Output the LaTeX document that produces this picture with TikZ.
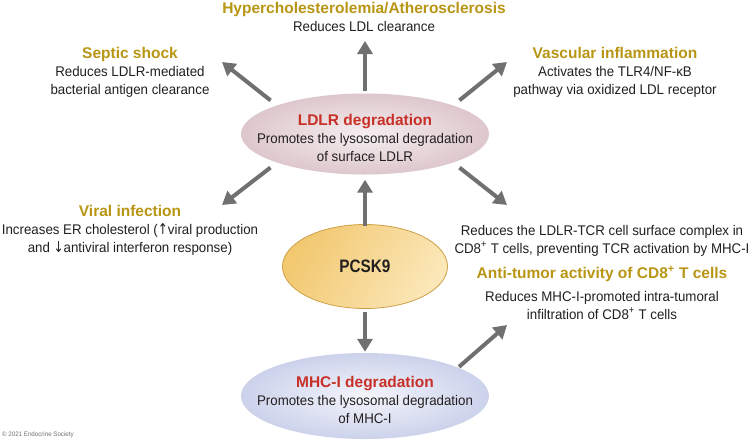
\documentclass[tikz,border=0pt]{standalone}
\usepackage{fontspec}
\setmainfont{Liberation Sans}[FakeStretch=0.95]
\newfontfamily\headfont{Liberation Sans}
\newfontfamily\keyfont{Liberation Sans}[FakeStretch=0.85]
\newfontfamily\symfont{DejaVu Sans}[FakeStretch=0.8]
\usepackage{xcolor}
\usepackage{tikz}
\usetikzlibrary{arrows.meta,shapes.geometric}

\definecolor{ink}{RGB}{35,31,32}
\definecolor{gold}{RGB}{184,150,20}
\definecolor{deepred}{RGB}{200,48,40}
\definecolor{arrowgray}{RGB}{112,112,112}

\newcommand\illness[1]{{\headfont\bfseries\fontsize{15.5}{18}\selectfont\color{gold}#1}}
\newcommand\process[1]{{\headfont\bfseries\fontsize{15.5}{18}\selectfont\color{deepred}#1}}
\newcommand\arrowsym[1]{{\symfont\fontsize{15}{18}\selectfont #1}}

\begin{document}
\begin{tikzpicture}[
    x=1pt, y=-1pt,
    blurb/.style={anchor=base, align=center, inner sep=0pt, text=ink, font=\fontsize{14}{18}\selectfont},
    ovalpink/.style={ellipse, minimum width=248pt, minimum height=81pt, inner sep=0pt, shading=radial, inner color={rgb,255:red,245;green,238;blue,240}, outer color={rgb,255:red,221;green,199;blue,204}},
    ovalgold/.style={ellipse, minimum width=165pt, minimum height=84pt, inner sep=0pt, draw={rgb,255:red,205;green,160;blue,70}, line width=0.8pt, left color={rgb,255:red,242;green,200;blue,112}, right color={rgb,255:red,251;green,231;blue,184}, shading angle=60},
    ovalblue/.style={ellipse, minimum width=248pt, minimum height=86pt, inner sep=0pt, shading=radial, inner color={rgb,255:red,243;green,245;blue,251}, outer color={rgb,255:red,204;green,210;blue,235}},
    push/.style={-{Triangle[length=13pt, width=15pt]}, line width=4pt, draw=arrowgray}
]
\fill[white] (0,0) rectangle (750,440);
\useasboundingbox (0,0) rectangle (750,440);

% the three ellipses (anchor=base takes the last line's baseline)
\node[ovalpink] (ldlr) at (365,134) {};
\node[ovalgold] (pcsk) at (365,266.5) {\keyfont\bfseries\fontsize{18}{18}\selectfont\color{ink}PCSK9};
\node[ovalblue] (mhc) at (365,396) {};

\node[blurb] (ldlrtxt) at (365,161) {\process{LDLR degradation}\\Promotes the lysosomal degradation\\of surface LDLR};
\node[blurb] (mhctxt) at (365,423) {\process{MHC-I degradation}\\Promotes the lysosomal degradation\\of MHC-I};

% outcomes
\node[blurb] (hyper) at (364,31.5) {\illness{Hypercholesterolemia/Atherosclerosis}\\Reduces LDL clearance};
\node[blurb] (septic) at (130,94) {\illness{Septic shock}\\Reduces LDLR-mediated\\bacterial antigen clearance};
\node[blurb] (vasc) at (615,94) {\illness{Vascular inflammation}\\Activates the TLR4/NF-κB\\pathway via oxidized LDL receptor};
\node[blurb] (viral) at (130,252) {\illness{Viral infection}\\Increases ER cholesterol (\arrowsym{↑}viral production\\and \arrowsym{↓}antiviral interferon response)};
\node[blurb] (tcr) at (602,253) {Reduces the LDLR-TCR cell surface complex in\\CD8\textsuperscript{+} T cells, preventing TCR activation by MHC-I};
\node[blurb] (tumor) at (602,319) {\illness{Anti-tumor activity of CD8\textsuperscript{+} T cells}\\[5pt]Reduces MHC-I-promoted intra-tumoral\\infiltration of CD8\textsuperscript{+} T cells};

\node[anchor=base west, inner sep=0pt, text=arrowgray, font=\fontsize{6.5}{8}\selectfont] (copy) at (2,436) {© 2021 Endocrine Society};

% arrow tips
\coordinate (hyperTip) at (365,41);
\coordinate (septicTip) at (222,62);
\coordinate (vascTip) at (507,62);
\coordinate (viralTip) at (222,205);
\coordinate (tcrTip) at (507,205);
\coordinate (tumorTip) at (507,325);

\draw[push, shorten <=2pt] (ldlr.north) -- (hyperTip);
\draw[push, shorten <=8pt] (ldlr.162) -- (septicTip);
\draw[push, shorten <=8pt] (ldlr.18) -- (vascTip);
\draw[push, shorten <=8pt] (ldlr.198) -- (viralTip);
\draw[push, shorten <=8pt] (ldlr.-18) -- (tcrTip);
\draw[push, shorten <=-2pt, shorten >=5pt] (pcsk) -- (ldlr);
\draw[push, shorten <=3pt, shorten >=1pt] (pcsk) -- (mhc);
\draw[push, shorten <=1pt] (mhc.17) -- (tumorTip);
\end{tikzpicture}
\end{document}
